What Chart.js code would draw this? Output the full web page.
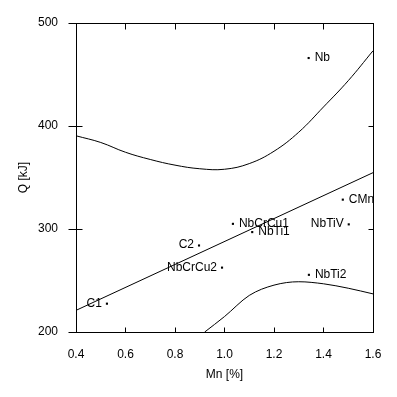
<!DOCTYPE html>
<html>
<head>
<meta charset="utf-8">
<script src="https://cdn.jsdelivr.net/npm/chart.js@4"></script>
<style>
  html, body { margin: 0; padding: 0; background: #fff; }
</style>
</head>
<body>
<canvas id="qChart" width="397" height="397"></canvas>
<script>
// measured samples
const sampleNames = ['Nb', 'CMn', 'NbCrCu1', 'NbTi1', 'NbTiV', 'NbCrCu2', 'NbTi2', 'C2', 'C1'];
const sampleMn = [1.34, 1.478, 1.034, 1.112, 1.502, 0.99, 1.341, 0.897, 0.525];
const sampleQ = [466, 328.5, 305, 297, 304.5, 262.5, 255.5, 284, 227.5];

// regression line
const fitMn = [0.4, 1.6];
const fitQ = [221, 354.7];

// upper / lower band curves
const upperMn = [0.4, 0.5, 0.6, 0.7, 0.8, 0.9, 1.0, 1.1, 1.2, 1.3, 1.4, 1.5, 1.6];
const upperQ = [390.5, 384, 374.5, 367.5, 362, 358.5, 358, 363.5, 375.5, 394, 418.5, 444, 473];
const lowerMn = [0.92, 1.0, 1.1, 1.2, 1.3, 1.4, 1.5, 1.6];
const lowerQ = [200, 215, 235.5, 245.5, 248.8, 246.8, 242.5, 237];

const xTicks = [0.4, 0.6, 0.8, 1.0, 1.2, 1.4, 1.6];
const yTicks = [200, 300, 400, 500];

const font = { family: 'Liberation Sans', size: 12 };
const toXY = (xs, ys) => xs.map((v, i) => ({ x: v, y: ys[i] }));

// labels that sit left of their point
const leftLabels = ['NbTiV', 'NbCrCu2', 'C2', 'C1'];

const frame = {
    id: 'frame',
    afterDatasetsDraw(chart) {
        const { ctx, chartArea: a, scales: { x, y } } = chart;
        const L = Math.round(a.left) + 0.5, R = Math.round(a.right) + 0.5;
        const T = Math.round(a.top) + 0.5, B = Math.round(a.bottom) + 0.5;
        ctx.save();
        ctx.strokeStyle = '#000';
        ctx.lineWidth = 1;
        ctx.strokeRect(L, T, R - L, B - T);
        ctx.beginPath();
        xTicks.slice(1, -1).forEach(v => {
            const px = Math.round(x.getPixelForValue(v)) + 0.5;
            ctx.moveTo(px, B); ctx.lineTo(px, B - 5);
            ctx.moveTo(px, T); ctx.lineTo(px, T + 6);
        });
        yTicks.forEach(v => {
            const py = Math.round(y.getPixelForValue(v)) + 0.5;
            ctx.moveTo(L - 8, py); ctx.lineTo(v === 200 || v === 500 ? L : L + 6, py);
            if (v !== 200 && v !== 500) { ctx.moveTo(R, py); ctx.lineTo(R - 5, py); }
        });
        ctx.stroke();

        // sample labels, clipped to the plot
        ctx.beginPath();
        ctx.rect(a.left, a.top, a.right - a.left, a.bottom - a.top);
        ctx.clip();
        ctx.fillStyle = '#000';
        ctx.font = '12px "Liberation Sans"';
        ctx.textBaseline = 'alphabetic';
        chart.getDatasetMeta(0).data.forEach((pt, i) => {
            const name = sampleNames[i];
            if (leftLabels.includes(name)) {
                ctx.textAlign = 'right';
                ctx.fillText(name, pt.x - 5, pt.y + 3);
            } else {
                ctx.textAlign = 'left';
                ctx.fillText(name, pt.x + 6, pt.y + 3);
            }
        });
        ctx.restore();
    }
};

new Chart(document.getElementById('qChart').getContext('2d'), {
    type: 'scatter',
    data: {
        datasets: [
            {
                data: toXY(sampleMn, sampleQ),
                pointStyle: 'rect',
                pointRadius: 1.5,
                backgroundColor: '#000',
                borderColor: '#000',
                borderWidth: 0
            },
            {
                data: toXY(fitMn, fitQ),
                showLine: true,
                pointRadius: 0,
                borderColor: '#000',
                borderWidth: 1
            },
            {
                data: toXY(upperMn, upperQ),
                showLine: true,
                pointRadius: 0,
                borderColor: '#000',
                borderWidth: 1,
                tension: 0.4
            },
            {
                data: toXY(lowerMn, lowerQ),
                showLine: true,
                pointRadius: 0,
                borderColor: '#000',
                borderWidth: 1,
                cubicInterpolationMode: 'monotone'
            }
        ]
    },
    options: {
        responsive: false,
        animation: false,
        devicePixelRatio: 1,
        layout: { padding: { top: 23, right: 24, left: 0, bottom: 0 } },
        plugins: {
            legend: { display: false },
            tooltip: { enabled: false }
        },
        scales: {
            x: {
                type: 'linear',
                min: 0.4,
                max: 1.6,
                afterFit(scale) { scale.height = 65; },
                afterBuildTicks(scale) { scale.ticks = xTicks.map(v => ({ value: v })); },
                grid: { display: false },
                border: { display: false },
                ticks: {
                    padding: 7,
                    color: '#000',
                    font: font,
                    maxRotation: 0,
                    callback: v => v.toFixed(1)
                },
                title: {
                    display: true,
                    text: 'Mn [%]',
                    color: '#000',
                    font: font,
                    padding: { top: 0, bottom: 15 }
                }
            },
            y: {
                min: 200,
                max: 500,
                afterFit(scale) { scale.width = 76; },
                afterBuildTicks(scale) { scale.ticks = yTicks.map(v => ({ value: v })); },
                grid: { display: false },
                border: { display: false },
                ticks: {
                    padding: 10,
                    color: '#000',
                    font: font
                },
                title: {
                    display: true,
                    text: 'Q [kJ]',
                    color: '#000',
                    font: font,
                    padding: { top: 16, bottom: 0 }
                }
            }
        }
    },
    plugins: [frame]
});
</script>
</body>
</html>
